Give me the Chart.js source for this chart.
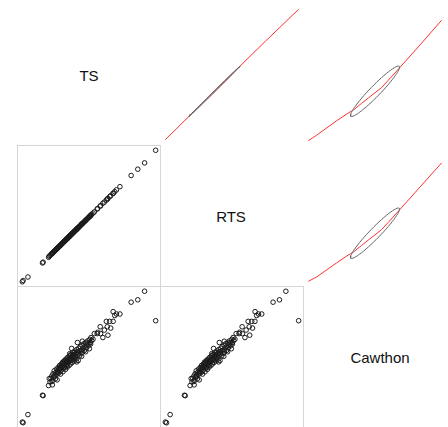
<!DOCTYPE html>
<html>
<head>
<meta charset="utf-8">
<script src="https://cdn.jsdelivr.net/npm/chart.js@4.4.1/dist/chart.umd.min.js"></script>
<style>
  html, body { margin: 0; padding: 0; background: #ffffff; }
  #wrap { position: relative; width: 448px; height: 427px; overflow: hidden; background: #ffffff; }
  canvas { position: absolute; }
  .lab { position: absolute; font-family: "Liberation Sans", Arial, sans-serif; font-size: 15px; color: #111;
         transform: translate(-50%, -50%); white-space: nowrap; }
</style>
</head>
<body>
<div id="wrap"></div>
<script>
// ---- data (arbitrary units) ----
const variables = ["TS", "RTS", "Cawthon"];

const ts = [
  0.0, 0.6, 4.2, 15.1, 15.6, 19.7, 22.5, 100.0, 91.7, 86.6, 81.6, 68.1, 70.6, 73.2, 69.3, 63.0,
  65.5, 68.1, 63.7, 66.3, 58.4, 64.2, 60.4, 58.7, 56.1, 54.0, 51.5, 51.0, 50.3, 53.0, 61.5, 56.5,
  20.8, 21.5, 22.1, 22.6, 23.0, 23.4, 23.9, 24.3, 24.8, 25.2, 25.6, 26.0, 26.1, 26.5, 26.9, 27.3,
  27.7, 28.0, 28.4, 28.6, 28.8, 29.2, 29.5, 29.9, 30.2, 30.5, 30.8, 31.1, 31.5, 31.8, 32.1, 32.4,
  32.8, 33.1, 33.4, 33.7, 34.0, 34.3, 34.6, 35.0, 35.3, 35.6, 35.9, 36.2, 36.6, 36.9, 37.2, 37.5,
  37.9, 38.2, 38.5, 38.9, 39.2, 39.6, 39.9, 40.3, 40.7, 41.0, 41.4, 41.9, 42.3, 42.6, 43.0, 43.5,
  43.9, 44.3, 44.8, 45.2, 45.7, 46.2, 46.6, 47.1, 47.6, 48.1, 48.6, 49.1, 49.6, 50.0, 50.6, 51.2,
  52.0, 29.0, 30.0, 31.0, 32.0, 33.0, 34.0, 35.0, 36.0, 37.0, 38.0, 31.5, 33.5, 27.5, 26.2, 35.5,
  39.0, 24.0, 40.5, 42.0, 20.2, 22.3, 41.3, 40.8, 44.5, 47.5, 37.0, 45.0
];
const rts = [
  0.0, 0.9, 3.6, 14.3, 14.9, 18.6, 21.6, 100.0, 90.4, 85.6, 80.8, 67.3, 69.9, 72.3, 68.5, 62.1,
  64.8, 67.2, 62.9, 65.4, 57.6, 63.3, 59.7, 57.8, 55.3, 53.1, 50.8, 50.1, 49.5, 52.2, 60.6, 55.7,
  20.0, 20.6, 21.4, 21.7, 22.3, 22.5, 23.2, 23.4, 24.0, 24.3, 24.9, 25.1, 25.4, 25.6, 26.2, 26.4,
  26.9, 27.2, 27.5, 27.9, 27.9, 28.5, 28.6, 29.1, 29.3, 29.8, 29.9, 30.4, 30.6, 31.0, 31.3, 31.5,
  32.0, 32.2, 32.7, 32.8, 33.3, 33.4, 33.9, 34.1, 34.6, 34.7, 35.2, 35.3, 35.9, 36.0, 36.5, 36.6,
  37.2, 37.3, 37.8, 38.0, 38.5, 38.7, 39.2, 39.4, 40.0, 40.1, 40.7, 41.0, 41.6, 41.7, 42.3, 42.6,
  43.2, 43.4, 44.1, 44.3, 45.0, 45.3, 45.9, 46.2, 46.9, 47.2, 47.9, 48.2, 48.9, 49.1, 49.9, 50.3,
  51.3, 28.2, 29.2, 30.3, 31.2, 32.3, 33.2, 34.3, 35.2, 36.3, 37.2, 30.7, 32.8, 26.7, 25.5, 34.8,
  38.3, 23.3, 39.7, 41.2, 19.4, 21.5, 40.5, 40.0, 43.8, 46.7, 36.2, 44.2
];
const cawthon = [
  0.5, 0.0, 6.2, 20.9, 20.6, 28.3, 28.8, 77.6, 100.0, 93.5, 91.7, 84.5, 82.7, 82.7, 81.5, 77.1,
  77.1, 77.1, 73.0, 72.0, 73.0, 66.6, 64.8, 67.8, 67.8, 67.8, 64.8, 60.9, 56.3, 63.5, 70.5, 68.8,
  31.0, 33.8, 35.5, 32.4, 37.2, 34.6, 39.5, 36.1, 33.4, 38.3, 40.8, 36.9, 32.6, 39.4, 42.0, 37.8,
  40.5, 43.6, 39.0, 37.0, 41.8, 44.5, 40.2, 42.9, 46.0, 38.8, 44.1, 41.5, 47.2, 43.0, 45.3, 40.6,
  48.5, 44.4, 46.6, 42.3, 49.7, 45.8, 47.9, 43.5, 50.8, 46.9, 49.0, 44.7, 52.0, 48.2, 50.3, 45.9,
  53.4, 49.4, 51.6, 47.0, 54.5, 50.6, 52.8, 48.3, 55.6, 51.8, 53.9, 47.3, 56.7, 54.5, 50.9, 57.9,
  52.6, 55.2, 59.0, 53.8, 56.8, 60.1, 55.0, 58.3, 61.2, 56.9, 59.7, 62.3, 58.5, 61.0, 63.4, 59.8,
  62.5, 43.0, 44.8, 45.9, 47.0, 47.8, 46.4, 48.1, 50.9, 47.4, 51.0, 42.2, 44.0, 41.3, 38.0, 52.5,
  49.0, 35.0, 53.0, 52.3, 33.6, 31.4, 61.0, 46.3, 50.5, 54.0, 56.5, 62.0
];

// smoothed (lowess-like) curves
const smoothRtsX   = [0, 25, 50, 75, 100];
const smoothTsOnRts = [0.8, 25.8, 50.8, 75.6, 100];
const smoothCawX    = [0, 6.2, 21, 29, 34, 40, 45, 50, 55, 60, 68, 83, 100];
const smoothTsOnCaw = [0, 4.2, 15, 20.5, 23.5, 28.5, 32.5, 36.5, 40.5, 46, 55, 72, 91.7];
const smoothRtsOnCaw = [0.3, 3.6, 14.2, 19.7, 22.7, 27.7, 31.7, 35.7, 39.7, 45.2, 54.2, 71.2, 90.4];

// correlation-ellipse parameters (mean, sd per variable; r per pair)
const ellMean = { TS: 37.6, RTS: 36.9, Cawthon: 50.0 };
const ellSd   = { TS: 19.2, RTS: 19.2, Cawthon: 18.4 };
const ellR    = { "RTS|TS": 0.9995, "Cawthon|TS": 0.955, "Cawthon|RTS": 0.955 };

// ---- helpers ----
const series = { TS: ts, RTS: rts, Cawthon: cawthon };
function range4(a) {
  const mn = Math.min(...a), mx = Math.max(...a), r = mx - mn;
  return { min: mn - 0.04 * r, max: mx + 0.04 * r };
}
function ellipse(xv, yv) {
  const r = ellR[xv + "|" + yv];
  const xm = ellMean[xv], ym = ellMean[yv], xs = ellSd[xv], ys = ellSd[yv];
  const th = Math.sign(r) / Math.SQRT2, a1 = Math.sqrt(1 + r), a2 = Math.sqrt(1 - r);
  const pts = [];
  for (let k = 0; k <= 60; k++) {
    const ang = k * 2 * Math.PI / 60, ca = Math.cos(ang), sa = Math.sin(ang);
    const e1 = ca * a1 * th - sa * a2 * th;
    const e2 = ca * a1 * th + sa * a2 * th;
    pts.push({ x: e1 * xs + xm, y: e2 * ys + ym });
  }
  return pts;
}
function zipXY(xa, ya) { return xa.map((v, i) => ({ x: v, y: ya[i] })); }

const framePlugin = {
  id: 'frame',
  afterDraw(chart, args, opts) {
    if (!opts || !opts.show) return;
    const ctx = chart.ctx, a = chart.chartArea;
    ctx.save();
    ctx.strokeStyle = opts.color || '#d9d9d9';
    ctx.lineWidth = 1;
    ctx.strokeRect(a.left + 0.5, a.top + 0.5, a.right - a.left - 1, a.bottom - a.top - 1);
    ctx.restore();
  }
};

// panel layout
const colLeft = [17, 160, 303], rowTop = [4, 145, 286], W = 144, H = 142;
const labelPos = [[89, 75], [231, 216], [380, 357]];
const wrap = document.getElementById('wrap');

function panel(i, j, datasets, framed) {
  const cv = document.createElement('canvas');
  cv.width = W; cv.height = H;
  cv.style.left = colLeft[j] + 'px'; cv.style.top = rowTop[i] + 'px';
  cv.style.width = W + 'px'; cv.style.height = H + 'px';
  wrap.appendChild(cv);
  const xr = range4(series[variables[j]]), yr = range4(series[variables[i]]);
  new Chart(cv, {
    type: 'scatter',
    data: { datasets },
    options: {
      responsive: false, animation: false, maintainAspectRatio: false,
      layout: { padding: 0, autoPadding: false },
      scales: {
        x: { type: 'linear', display: false, min: xr.min, max: xr.max },
        y: { type: 'linear', display: false, min: yr.min, max: yr.max }
      },
      plugins: { legend: { display: false }, tooltip: { enabled: false }, frame: { show: framed, color: '#d6d6d6' } }
    },
    plugins: [framePlugin]
  });
}

function pointsDs(xa, ya) {
  return { data: zipXY(xa, ya), pointRadius: 2.3, pointStyle: 'circle', pointBorderWidth: 1,
           pointBorderColor: '#1a1a1a', pointBackgroundColor: 'rgba(0,0,0,0)', showLine: false, clip: false };
}
function lineDs(pts, color) {
  return { data: pts, showLine: true, borderColor: color, borderWidth: 1, pointRadius: 0, tension: 0, clip: false };
}

// lower panels: points
panel(1, 0, [pointsDs(ts, rts)], true);
panel(2, 0, [pointsDs(ts, cawthon)], true);
panel(2, 1, [pointsDs(rts, cawthon)], true);

// upper panels: ellipse + smooth
panel(0, 1, [lineDs(ellipse("RTS", "TS"), '#666666'), lineDs(zipXY(smoothRtsX, smoothTsOnRts), '#ff3030')], false);
panel(0, 2, [lineDs(ellipse("Cawthon", "TS"), '#666666'), lineDs(zipXY(smoothCawX, smoothTsOnCaw), '#ff3030')], false);
panel(1, 2, [lineDs(ellipse("Cawthon", "RTS"), '#666666'), lineDs(zipXY(smoothCawX, smoothRtsOnCaw), '#ff3030')], false);

// diagonal labels
variables.forEach((v, k) => {
  const d = document.createElement('div');
  d.className = 'lab';
  d.textContent = v;
  d.style.left = labelPos[k][0] + 'px';
  d.style.top = labelPos[k][1] + 'px';
  wrap.appendChild(d);
});
</script>
</body>
</html>
